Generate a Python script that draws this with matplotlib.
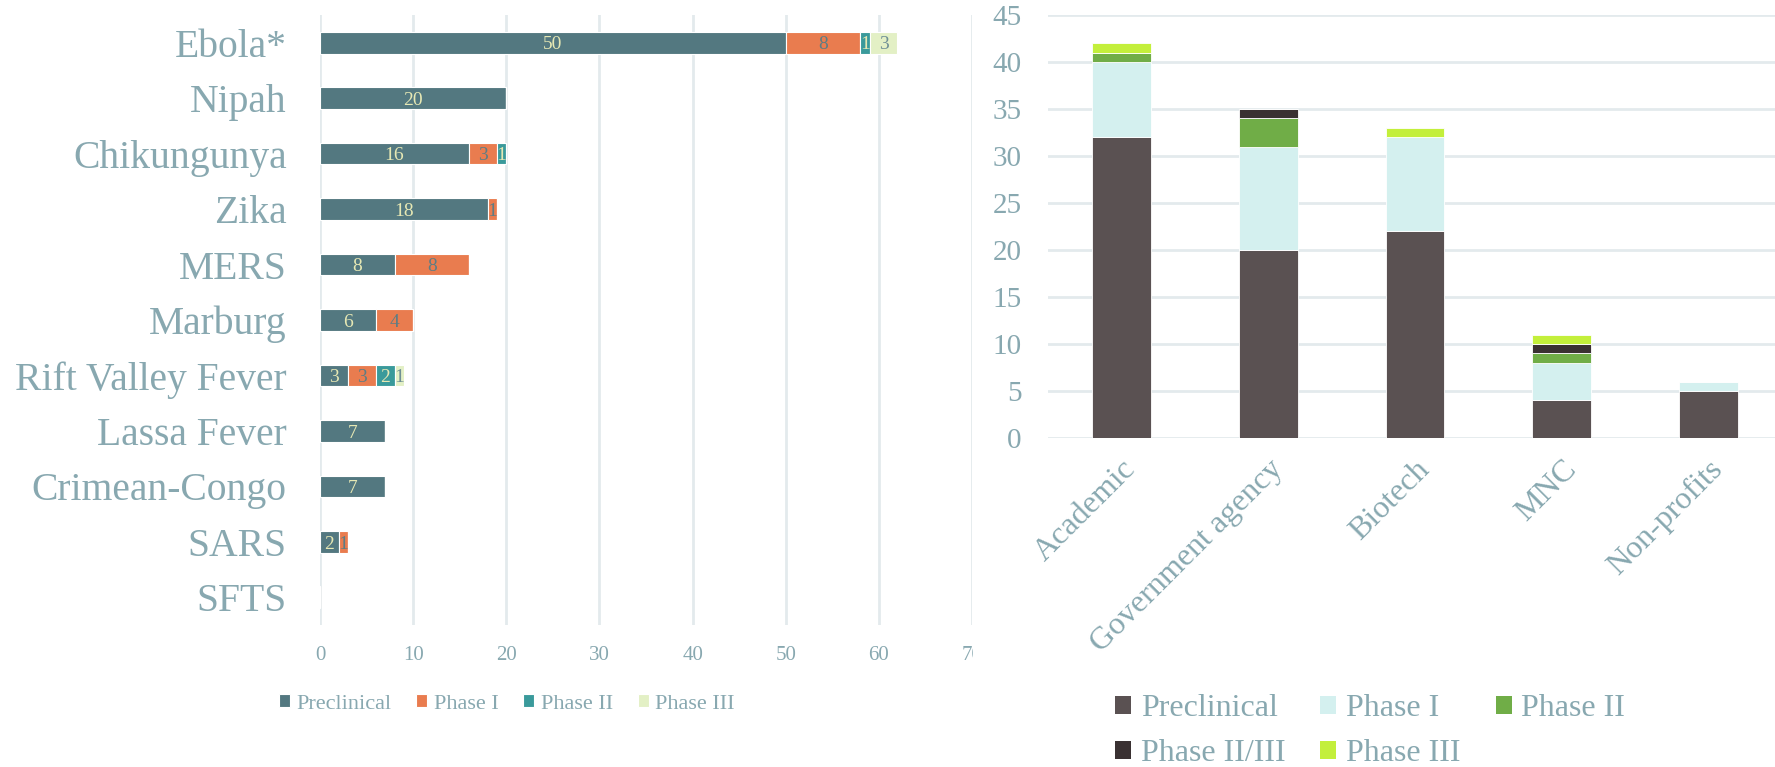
import matplotlib
matplotlib.use("Agg")
import matplotlib.pyplot as plt
from matplotlib.patches import Rectangle, Patch
import numpy as np

plt.rcParams['font.family'] = ['Liberation Serif', 'DejaVu Serif']

# left chart: candidates per disease by phase
diseases = ["Ebola*", "Nipah", "Chikungunya", "Zika", "MERS", "Marburg",
            "Rift Valley Fever", "Lassa Fever", "Crimean-Congo", "SARS", "SFTS"]
preclinical = [50, 20, 16, 18, 8, 6, 3, 7, 7, 2, 0]
phase1 = [8, 0, 3, 1, 8, 4, 3, 0, 0, 1, 0]
phase2 = [1, 0, 1, 0, 0, 0, 2, 0, 0, 0, 0]
phase3 = [3, 0, 0, 0, 0, 0, 1, 0, 0, 0, 0]
x_ticks = [0, 10, 20, 30, 40, 50, 60, 70]

# right chart: candidates per sponsor type
sponsors = ["Academic", "Government agency", "Biotech", "MNC", "Non-profits"]
s_pre = [32, 20, 22, 4, 5]
s_ph1 = [8, 11, 10, 4, 1]
s_ph2 = [1, 3, 0, 1, 0]
s_ph23 = [0, 1, 0, 1, 0]
s_ph3 = [1, 0, 1, 1, 0]
y_ticks = [0, 5, 10, 15, 20, 25, 30, 35, 40, 45]

txt = '#88a8b0'
grid = '#e3eaed'
W, H = 1775, 767

fig = plt.figure(figsize=(W / 100, H / 100), dpi=100)
fig.patch.set_facecolor('white')

#####################################################
# left: horizontal stacked bars
ax = fig.add_axes([320 / W, 1 - 625 / H, (972 - 320) / W, 610 / H])
ax.set_zorder(0)
y = np.arange(len(diseases))
series = [
    ("Preclinical", preclinical, '#537880', '#e6e8b4'),
    ("Phase I", phase1, '#e97c4f', '#5d7c84'),
    ("Phase II", phase2, '#3a9a9b', '#e6e8b4'),
    ("Phase III", phase3, '#e3f0c5', '#6f8f95'),
]
left = np.zeros(len(diseases))
for name, vals, col, lab_col in series:
    vals = np.array(vals)
    ax.barh(y, vals, left=left, height=0.39, color=col, edgecolor='white',
            linewidth=0.8, label=name, zorder=3)
    for i, v in enumerate(vals):
        if v > 0:
            ax.text(left[i] + v / 2, i + 0.04, str(v), ha='center', va='center',
                    fontsize=14, color=lab_col, zorder=4)
    left = left + vals

ax.set_ylim(len(diseases) - 0.5, -0.5)
ax.set_xlim(0, 70)
ax.set_xticks(x_ticks)
ax.set_yticks(y)
ax.set_yticklabels(diseases, fontsize=28.5, color=txt)
ax.tick_params(axis='y', length=0, pad=24)
ax.tick_params(axis='x', length=0, pad=15, labelsize=15, labelcolor=txt)
ax.grid(axis='x', color=grid, linewidth=2, zorder=0)
ax.set_axisbelow(True)
for s in ax.spines.values():
    s.set_visible(False)

ax.legend(loc='center', bbox_to_anchor=(507 / W, 1 - 704 / H),
          bbox_transform=fig.transFigure, ncol=4, frameon=False,
          fontsize=16, labelcolor=txt, handlelength=0.5, handleheight=0.5,
          handletextpad=0.3, columnspacing=1.1)

# the right-hand chart sits on top of the left one and cuts its "70"
fig.add_artist(Rectangle((973 / W, 0), 1, 1, transform=fig.transFigure,
                         facecolor='white', edgecolor='none', zorder=1))

#####################################################
# right: vertical stacked bars
ax2 = fig.add_axes([1048 / W, 1 - 438 / H, (1782 - 1048) / W, 423 / H])
ax2.set_zorder(2)
x = np.arange(len(sponsors))
series2 = [
    ("Preclinical", s_pre, '#5a5152'),
    ("Phase I", s_ph1, '#d4f0ef'),
    ("Phase II", s_ph2, '#70ad47'),
    ("Phase II/III", s_ph23, '#3a3132'),
    ("Phase III", s_ph3, '#c3ef3b'),
]
bottom = np.zeros(len(sponsors))
handles = {}
for name, vals, col in series2:
    vals = np.array(vals)
    ax2.bar(x, vals, bottom=bottom, width=0.4, color=col, edgecolor='white',
            linewidth=0.6, zorder=3)
    handles[name] = Patch(facecolor=col, label=name)
    bottom = bottom + vals

ax2.set_xlim(-0.5, len(sponsors) - 0.5)
ax2.set_ylim(0, 45)
ax2.set_yticks(y_ticks)
ax2.set_xticks(x)
ax2.set_xticklabels(sponsors, rotation=45, ha='right', va='top',
                    rotation_mode='anchor', fontsize=23, color=txt)
ax2.tick_params(axis='y', length=0, pad=19, labelsize=21, labelcolor=txt)
ax2.tick_params(axis='x', length=0, pad=12)
ax2.grid(axis='y', color=grid, linewidth=2, zorder=0)
ax2.set_axisbelow(True)
for s in ax2.spines.values():
    s.set_visible(False)

order = ["Preclinical", "Phase II/III", "Phase I", "Phase III", "Phase II"]
ax2.legend(handles=[handles[k] for k in order], loc='center',
           bbox_to_anchor=(1370 / W, 1 - 731 / H), bbox_transform=fig.transFigure,
           ncol=3, frameon=False, fontsize=23, labelcolor=txt,
           handlelength=0.5, handleheight=0.5, handletextpad=0.3,
           columnspacing=1.1, labelspacing=0.5)

fig.savefig("out.png", dpi=100, facecolor='white')
